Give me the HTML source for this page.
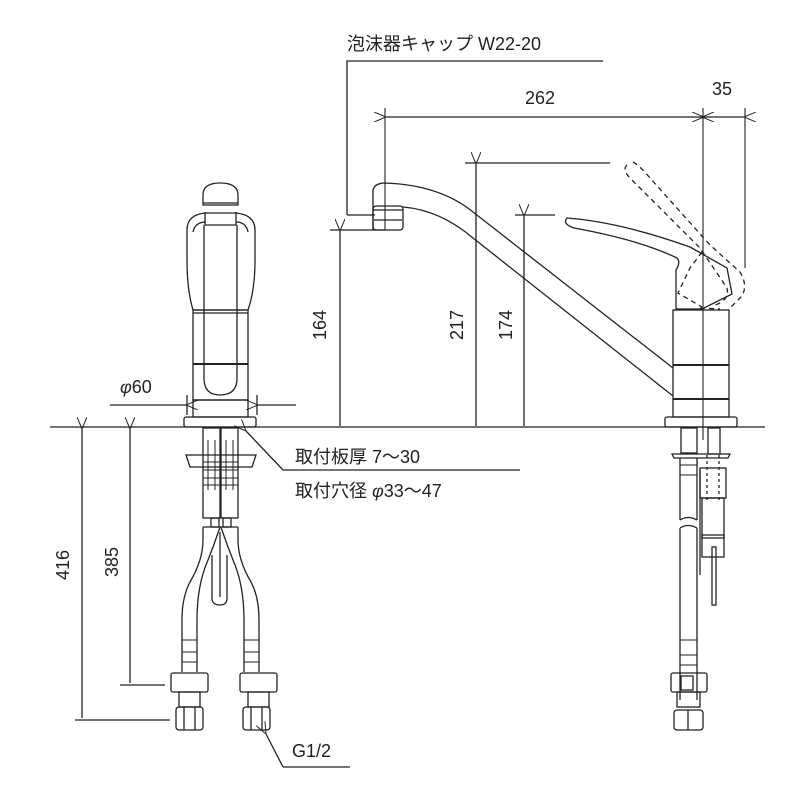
<!DOCTYPE html>
<html><head><meta charset="utf-8"><style>
html,body{margin:0;padding:0;background:#fff;}
svg{display:block;}
text{font-family:"Liberation Sans","Noto Sans CJK JP",sans-serif;fill:#222;}
</style></head><body>
<svg width="800" height="800" viewBox="0 0 800 800" xmlns="http://www.w3.org/2000/svg">
<defs>
<marker id="a" viewBox="0 0 12 10" refX="0" refY="5" markerWidth="12" markerHeight="10" orient="auto-start-reverse" markerUnits="userSpaceOnUse">
<path d="M12,0 L0,5 L12,10" fill="none" stroke="#222" stroke-width="1"/>
</marker>
</defs>
<g stroke="#222" stroke-width="1.3" fill="none">
<line x1="50" y1="427" x2="765" y2="427"/>

<!-- LEFT VIEW faucet -->
<path d="M203,205 L203,195 Q203,183 220,183 Q238,183 238,195 L238,205 Z" fill="#fff"/>
<line x1="203" y1="203" x2="238" y2="203"/>
<path d="M187,230 Q187,215 205,213 L236,213 Q255,215 255,230 L255,260 Q255,290 248,310 L193,310 Q187,290 187,260 Z"/>
<path d="M193,232 Q195,222 206,222 M248,232 Q246,222 236,222"/>
<path d="M205,212 L205,225 L236,225 L236,212"/>
<rect x="193" y="310" width="55" height="90"/>
<line x1="193" y1="313" x2="248" y2="313"/>
<line x1="193" y1="364" x2="248" y2="364" stroke-width="2"/>
<path d="M204,225 L204,378 Q204,395 220,395 Q237,395 237,378 L237,225"/>
<rect x="193" y="400" width="55" height="17"/>
<rect x="184" y="417" width="72" height="10" rx="2"/>
<line x1="110" y1="405" x2="186" y2="405" marker-end="url(#a)"/>
<line x1="296" y1="405" x2="258" y2="405" marker-end="url(#a)"/>
<line x1="187" y1="395" x2="187" y2="415"/>
<line x1="257" y1="395" x2="257" y2="415"/>

<!-- left under counter -->
<rect x="203" y="428" width="17" height="90"/>
<rect x="221" y="428" width="17" height="90"/>
<path d="M186,455 L256,455 L252,467 L190,467 Z"/>
<g stroke-width="1">
<line x1="203" y1="462" x2="238" y2="462"/><line x1="203" y1="470" x2="238" y2="470"/>
<line x1="203" y1="478" x2="238" y2="478"/><line x1="203" y1="485" x2="238" y2="485"/>
<line x1="208" y1="440" x2="208" y2="490"/><line x1="215" y1="440" x2="215" y2="490"/>
<line x1="226" y1="440" x2="226" y2="490"/><line x1="233" y1="440" x2="233" y2="490"/>
</g>
<rect x="211" y="518" width="8" height="9"/><rect x="223" y="518" width="8" height="9"/>
<path d="M203,527 L238,527"/>
<path d="M203,527 L203,540 Q203,560 190,582 Q182,597 182,620 L182,672"/>
<path d="M219,530 Q214,545 208,560 Q197,585 197,620 L197,672"/>
<path d="M238,527 L238,540 Q238,560 251,582 Q259,597 259,620 L259,672"/>
<path d="M222,530 Q227,545 233,560 Q244,585 244,620 L244,672"/>
<path d="M219,530 Q220.5,525 222,530"/>
<path d="M212,555 L212,598 Q212,605 220,605 Q227,605 227,598 L227,555"/>
<line x1="220" y1="532" x2="220" y2="597"/>
<g stroke-width="1">
<line x1="182" y1="640" x2="197" y2="640"/><line x1="182" y1="652" x2="197" y2="652"/><line x1="182" y1="662" x2="197" y2="662"/>
<line x1="244" y1="640" x2="259" y2="640"/><line x1="244" y1="652" x2="259" y2="652"/><line x1="244" y1="662" x2="259" y2="662"/>
</g>
<rect x="171" y="673" width="37" height="19" rx="2"/>
<rect x="179" y="692" width="21" height="15"/>
<rect x="176" y="707" width="27" height="23" rx="3"/>
<line x1="184" y1="707" x2="184" y2="730"/><line x1="195" y1="707" x2="195" y2="730"/>
<rect x="240" y="673" width="37" height="19" rx="2"/>
<rect x="248" y="692" width="21" height="15"/>
<rect x="243" y="707" width="27" height="23" rx="3"/>
<line x1="251" y1="707" x2="251" y2="730"/><line x1="262" y1="707" x2="262" y2="730"/>

<line x1="82" y1="718" x2="82" y2="429" marker-end="url(#a)"/>
<line x1="130" y1="683" x2="130" y2="429" marker-end="url(#a)"/>
<line x1="75" y1="720" x2="170" y2="720"/>
<line x1="120" y1="685" x2="165" y2="685"/>

<line x1="283" y1="470" x2="246" y2="431" marker-end="url(#a)"/>
<line x1="283" y1="470" x2="520" y2="470"/>
<line x1="283" y1="767" x2="266" y2="734" marker-end="url(#a)"/>
<line x1="283" y1="767" x2="350" y2="767"/>

<!-- RIGHT VIEW -->
<path d="M373,230 L373,190 Q375,183 385,183 Q440,185 473,212 L673,368"/>
<path d="M403,207 Q440,210 473,238 L673,396"/>
<rect x="373" y="206" width="30" height="24" rx="3"/>
<line x1="373" y1="210" x2="403" y2="210"/><line x1="374" y1="220" x2="402" y2="220"/>
<rect x="673" y="310" width="56" height="107"/>
<line x1="673" y1="365" x2="729" y2="365" stroke-width="2"/>
<line x1="673" y1="399" x2="729" y2="399" stroke-width="2"/>
<rect x="665" y="417" width="72" height="10" rx="2"/>
<path d="M567,218 Q620,222 690,247 L727,268 L732,294 L702,309 L676,309 L676,270 Q681,262 677,258 Q640,240 574,228 Q562,224 567,218 Z" fill="#fff"/>
<path d="M627,165 Q622,170 630,178 L700,248 L727,288 Q730,300 715,305 M633,162 Q640,166 650,178 L710,245 L740,272 Q748,285 742,296 L730,308 M702,252 L690,268 L678,293 L690,300 L702,307 M700,308 L720,309" stroke-dasharray="5,4"/>
<line x1="703" y1="108" x2="703" y2="440" stroke-width="1.1"/>
<line x1="745" y1="108" x2="745" y2="268" stroke-width="1.1"/>
<line x1="385" y1="108" x2="385" y2="230" stroke-width="1.1"/>
<line x1="386" y1="117" x2="702" y2="117" marker-start="url(#a)" marker-end="url(#a)"/>
<line x1="704" y1="117" x2="744" y2="117" marker-start="url(#a)" marker-end="url(#a)"/>
<path d="M347,215 L347,61 L603,61 M347,215 L375,215"/>
<line x1="340" y1="426" x2="340" y2="231" marker-end="url(#a)"/>
<line x1="330" y1="230" x2="385" y2="230"/>
<line x1="476" y1="426" x2="476" y2="164" marker-end="url(#a)"/>
<line x1="465" y1="163" x2="610" y2="163"/>
<line x1="524" y1="426" x2="524" y2="216" marker-end="url(#a)"/>
<line x1="515" y1="215" x2="555" y2="215"/>

<rect x="681" y="428" width="16" height="25"/>
<rect x="708" y="428" width="12" height="26"/>
<path d="M672,454 L730,454 L728,458 L674,458 Z"/>
<path d="M680,458 L680,520 M697,458 L697,520 M680,528 L680,700 M697,528 L697,700"/>
<path d="M680,520 Q688,515 697,520 M680,528 Q688,523 697,528"/>
<rect x="700" y="468" width="26" height="30"/>
<rect x="702" y="498" width="22" height="40"/>
<rect x="702" y="535" width="22" height="22"/>
<line x1="700" y1="470" x2="700" y2="575"/>
<rect x="712" y="547" width="4" height="58"/>
<line x1="707" y1="455" x2="707" y2="500" stroke-dasharray="3,3"/>
<line x1="719" y1="455" x2="719" y2="500" stroke-dasharray="3,3"/>
<g stroke-width="1">
<line x1="680" y1="465" x2="697" y2="465"/><line x1="680" y1="475" x2="697" y2="475"/>
<line x1="680" y1="640" x2="697" y2="640"/><line x1="680" y1="655" x2="697" y2="655"/><line x1="680" y1="665" x2="697" y2="665"/>
</g>
<rect x="671" y="673" width="36" height="19" rx="2"/>
<rect x="681" y="676" width="12" height="14"/>
<rect x="677" y="692" width="23" height="15"/>
<rect x="674" y="710" width="29" height="20" rx="3"/>
<line x1="688" y1="710" x2="688" y2="730"/>
</g>

<text x="347" y="50" font-size="18">泡沫器キャップ W22-20</text>
<text x="540" y="104" font-size="18" text-anchor="middle">262</text>
<text x="722" y="95" font-size="18" text-anchor="middle">35</text>
<text x="120" y="393" font-size="18" font-style="italic">φ<tspan font-style="normal">60</tspan></text>
<text x="295" y="463" font-size="18">取付板厚 7～30</text>
<text x="295" y="497" font-size="18">取付穴径 <tspan font-style="italic">φ</tspan>33～47</text>
<text x="292" y="757" font-size="18">G1/2</text>
<text font-size="18" text-anchor="middle" transform="translate(326,325) rotate(-90)">164</text>
<text font-size="18" text-anchor="middle" transform="translate(463,325) rotate(-90)">217</text>
<text font-size="18" text-anchor="middle" transform="translate(512,325) rotate(-90)">174</text>
<text font-size="18" text-anchor="middle" transform="translate(69,565) rotate(-90)">416</text>
<text font-size="18" text-anchor="middle" transform="translate(118,562) rotate(-90)">385</text>
</svg>
</body></html>
